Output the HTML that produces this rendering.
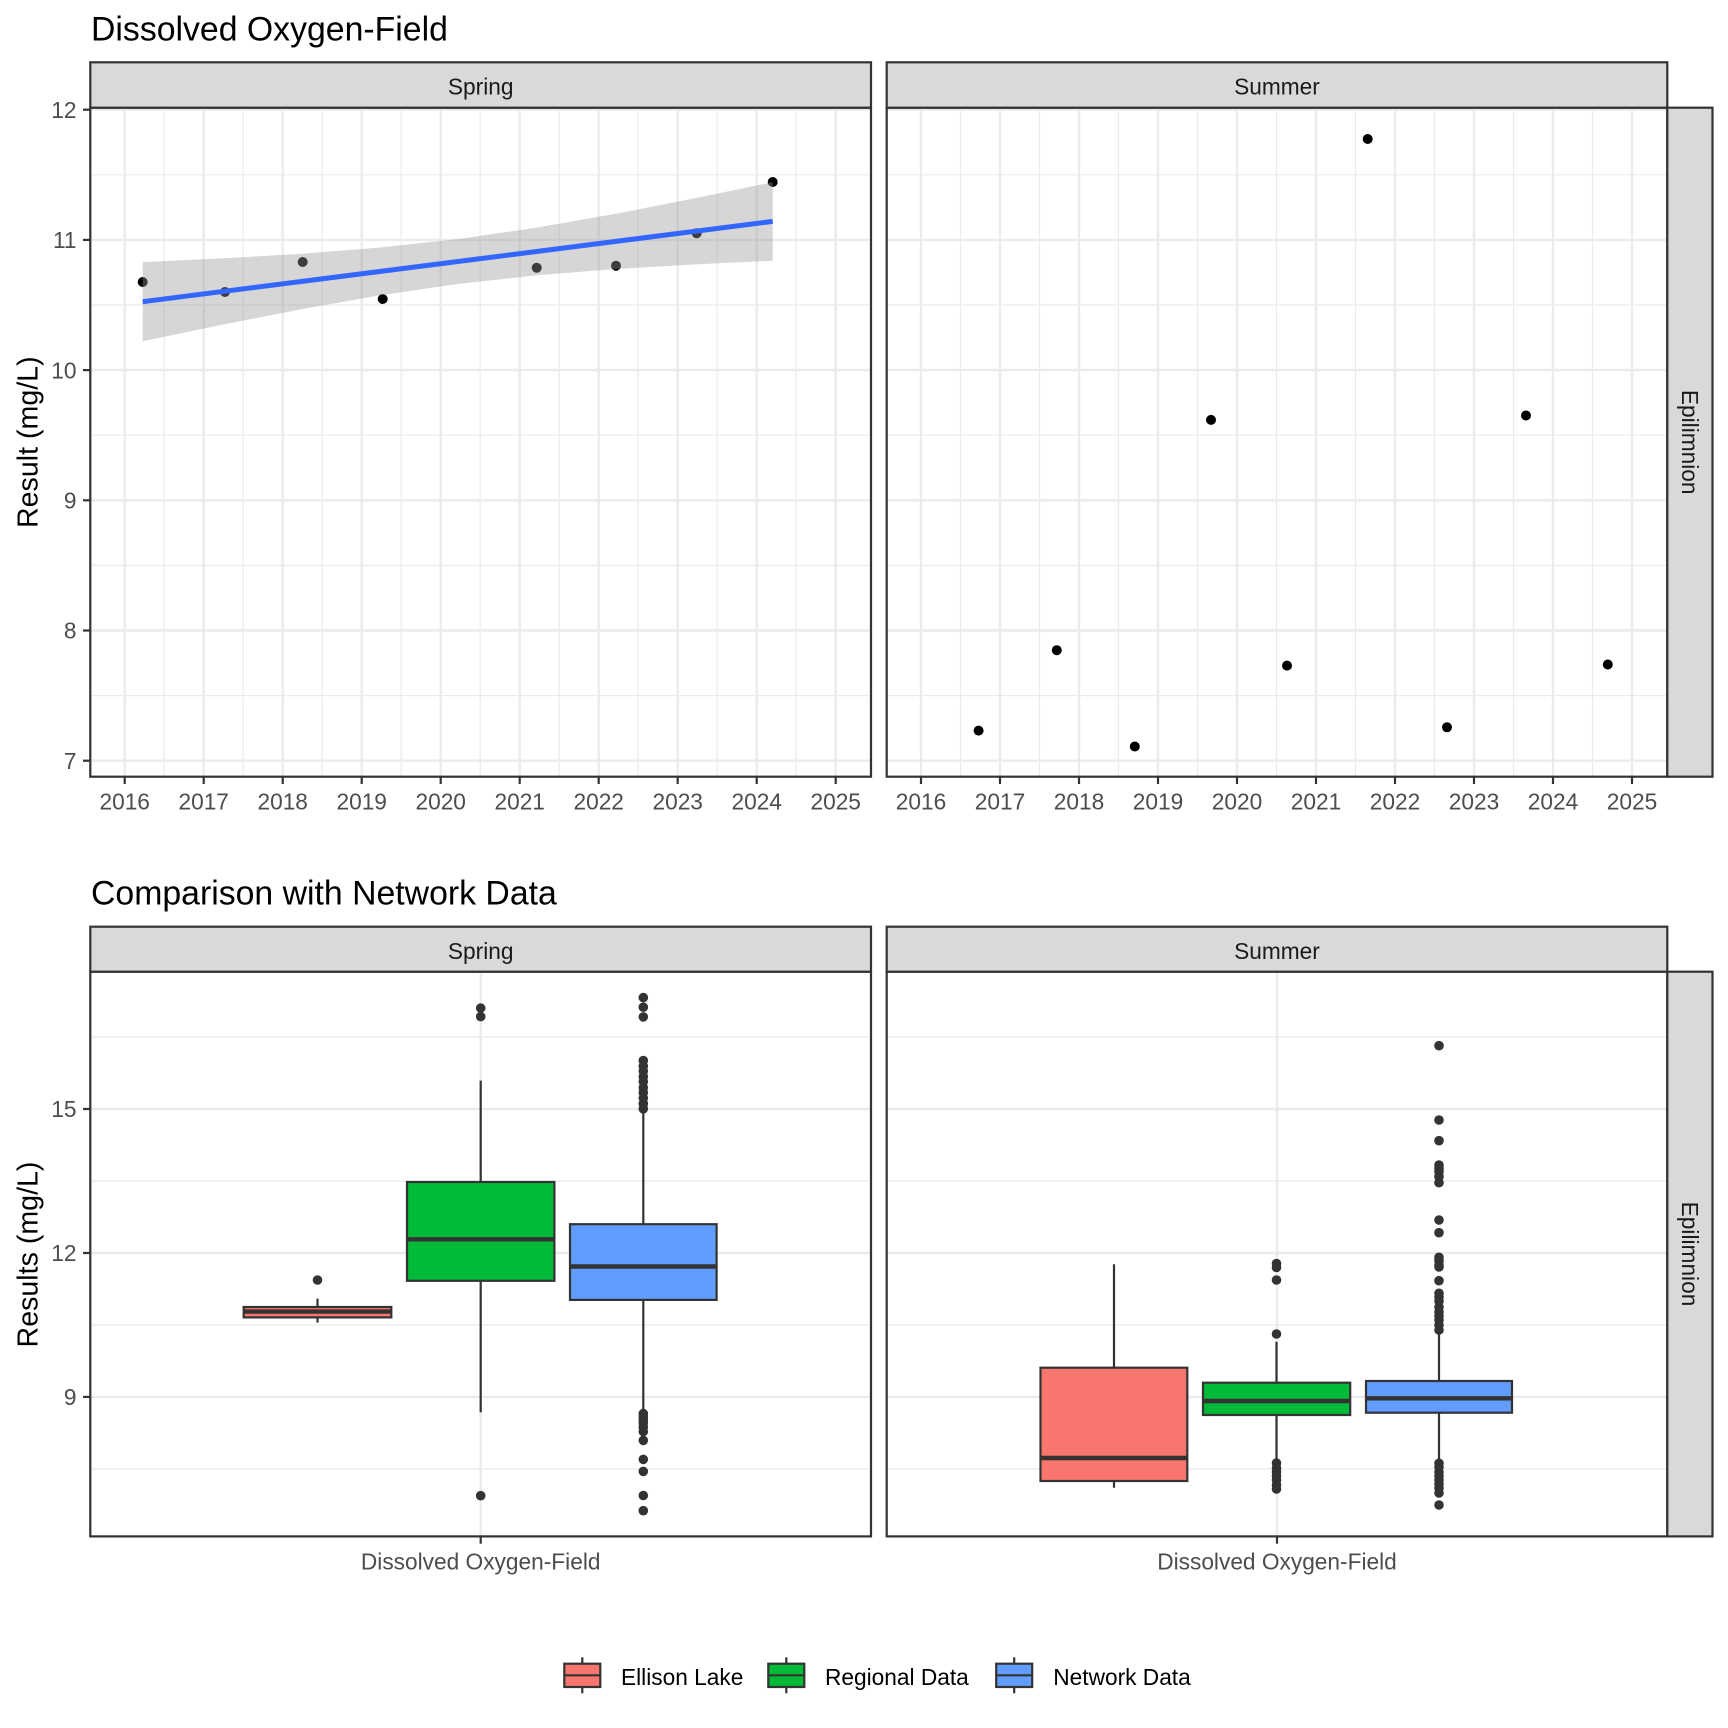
<!DOCTYPE html>
<html><head><meta charset="utf-8"><style>
html,body{margin:0;padding:0;background:#fff;}
svg{display:block;}
text{font-family:"Liberation Sans",Arial,sans-serif;}
.ax{font-size:22.7px;fill:#4d4d4d;}
.st{font-size:22.7px;fill:#1a1a1a;}
.lg{font-size:22.7px;fill:#000;}
.ti{font-size:33.8px;fill:#000;}
.yt{font-size:28.6px;fill:#000;}
.gM{stroke:#ebebeb;stroke-width:2.4;}
.gm{stroke:#ebebeb;stroke-width:1.2;}
.bd{fill:none;stroke:#333;stroke-width:2.2;}
.strip{fill:#d9d9d9;stroke:#333;stroke-width:2.2;}
.tk{stroke:#333;stroke-width:2.2;}
.wh{stroke:#333;stroke-width:2.2;}
.bx{stroke:#333;stroke-width:2.2;}
.md{stroke:#333;stroke-width:4.4;}
.o{fill:#333;}
</style></head><body>
<svg width="1728" height="1728" viewBox="0 0 1728 1728" xmlns="http://www.w3.org/2000/svg">
<rect width="1728" height="1728" fill="#fff"/>

<!-- ===== TOP TITLE ===== -->
<text class="ti" x="91" y="40.7">Dissolved Oxygen-Field</text>

<!-- ===== TOP LEFT PANEL (Spring) ===== -->
<rect x="90.3" y="107.7" width="780.7" height="669" fill="#fff"/>
<g class="gm">
<line x1="90.3" x2="871" y1="695.6" y2="695.6"/><line x1="90.3" x2="871" y1="565.4" y2="565.4"/><line x1="90.3" x2="871" y1="435.2" y2="435.2"/><line x1="90.3" x2="871" y1="305" y2="305"/><line x1="90.3" x2="871" y1="174.8" y2="174.8"/>
<line y1="107.7" y2="776.7" x1="164.2" x2="164.2"/><line y1="107.7" y2="776.7" x1="243.2" x2="243.2"/><line y1="107.7" y2="776.7" x1="322.2" x2="322.2"/><line y1="107.7" y2="776.7" x1="401.2" x2="401.2"/><line y1="107.7" y2="776.7" x1="480.2" x2="480.2"/><line y1="107.7" y2="776.7" x1="559.2" x2="559.2"/><line y1="107.7" y2="776.7" x1="638.2" x2="638.2"/><line y1="107.7" y2="776.7" x1="717.2" x2="717.2"/><line y1="107.7" y2="776.7" x1="796.2" x2="796.2"/>
</g>
<g class="gM">
<line x1="90.3" x2="871" y1="760.7" y2="760.7"/><line x1="90.3" x2="871" y1="630.5" y2="630.5"/><line x1="90.3" x2="871" y1="500.3" y2="500.3"/><line x1="90.3" x2="871" y1="370.1" y2="370.1"/><line x1="90.3" x2="871" y1="239.9" y2="239.9"/><line x1="90.3" x2="871" y1="109.7" y2="109.7"/>
<line y1="107.7" y2="776.7" x1="124.7" x2="124.7"/><line y1="107.7" y2="776.7" x1="203.7" x2="203.7"/><line y1="107.7" y2="776.7" x1="282.7" x2="282.7"/><line y1="107.7" y2="776.7" x1="361.7" x2="361.7"/><line y1="107.7" y2="776.7" x1="440.7" x2="440.7"/><line y1="107.7" y2="776.7" x1="519.7" x2="519.7"/><line y1="107.7" y2="776.7" x1="598.7" x2="598.7"/><line y1="107.7" y2="776.7" x1="677.7" x2="677.7"/><line y1="107.7" y2="776.7" x1="756.7" x2="756.7"/><line y1="107.7" y2="776.7" x1="835.7" x2="835.7"/>
</g>
<!-- points -->
<g fill="#000">
<circle cx="142.7" cy="282" r="5"/><circle cx="225" cy="292" r="5"/><circle cx="302.7" cy="262" r="5"/><circle cx="382.7" cy="299" r="5"/>
<circle cx="536.7" cy="267.8" r="5"/><circle cx="616" cy="265.7" r="5"/><circle cx="696.7" cy="233.3" r="5"/><circle cx="772.7" cy="182" r="5"/>
</g>
<!-- confidence band -->
<polygon fill="rgba(153,153,153,0.4)" points="142.7,262.1 221.4,258.43 300.1,253.83 378.8,247.67 459.35,238.88 536.7,227.65 615,213.9 693.7,198.5 772.7,182.1 772.7,260.7 693.7,264.44 615,269.1 536.7,275.31 459.35,283.8 378.8,295.55 300.1,309.45 221.4,324.91 142.7,341.3"/>
<line x1="142.7" y1="301.7" x2="772.7" y2="221.4" stroke="#3366FF" stroke-width="5"/>
<rect class="bd" x="90.3" y="107.7" width="780.7" height="669"/>
<rect class="strip" x="90.3" y="62.3" width="780.7" height="45.4"/>
<text class="st" x="480.7" y="94.3" text-anchor="middle">Spring</text>

<!-- ===== TOP RIGHT PANEL (Summer) ===== -->
<rect x="886.7" y="107.7" width="780.6" height="669" fill="#fff"/>
<g class="gm">
<line x1="886.7" x2="1667.3" y1="695.6" y2="695.6"/><line x1="886.7" x2="1667.3" y1="565.4" y2="565.4"/><line x1="886.7" x2="1667.3" y1="435.2" y2="435.2"/><line x1="886.7" x2="1667.3" y1="305" y2="305"/><line x1="886.7" x2="1667.3" y1="174.8" y2="174.8"/>
<line y1="107.7" y2="776.7" x1="960.5" x2="960.5"/><line y1="107.7" y2="776.7" x1="1039.5" x2="1039.5"/><line y1="107.7" y2="776.7" x1="1118.5" x2="1118.5"/><line y1="107.7" y2="776.7" x1="1197.5" x2="1197.5"/><line y1="107.7" y2="776.7" x1="1276.5" x2="1276.5"/><line y1="107.7" y2="776.7" x1="1355.5" x2="1355.5"/><line y1="107.7" y2="776.7" x1="1434.5" x2="1434.5"/><line y1="107.7" y2="776.7" x1="1513.5" x2="1513.5"/><line y1="107.7" y2="776.7" x1="1592.5" x2="1592.5"/>
</g>
<g class="gM">
<line x1="886.7" x2="1667.3" y1="760.7" y2="760.7"/><line x1="886.7" x2="1667.3" y1="630.5" y2="630.5"/><line x1="886.7" x2="1667.3" y1="500.3" y2="500.3"/><line x1="886.7" x2="1667.3" y1="370.1" y2="370.1"/><line x1="886.7" x2="1667.3" y1="239.9" y2="239.9"/><line x1="886.7" x2="1667.3" y1="109.7" y2="109.7"/>
<line y1="107.7" y2="776.7" x1="921" x2="921"/><line y1="107.7" y2="776.7" x1="1000" x2="1000"/><line y1="107.7" y2="776.7" x1="1079" x2="1079"/><line y1="107.7" y2="776.7" x1="1158" x2="1158"/><line y1="107.7" y2="776.7" x1="1237" x2="1237"/><line y1="107.7" y2="776.7" x1="1316" x2="1316"/><line y1="107.7" y2="776.7" x1="1395" x2="1395"/><line y1="107.7" y2="776.7" x1="1474" x2="1474"/><line y1="107.7" y2="776.7" x1="1553" x2="1553"/><line y1="107.7" y2="776.7" x1="1632" x2="1632"/>
</g>
<g fill="#000">
<circle cx="978.6" cy="730.6" r="5"/><circle cx="1056.8" cy="650.2" r="5"/><circle cx="1134.8" cy="746.5" r="5"/><circle cx="1211" cy="419.9" r="5"/><circle cx="1287" cy="665.6" r="5"/><circle cx="1367.7" cy="139" r="5"/><circle cx="1447" cy="727.3" r="5"/><circle cx="1526" cy="415.5" r="5"/><circle cx="1607.8" cy="664.5" r="5"/>
</g>
<rect class="bd" x="886.7" y="107.7" width="780.6" height="669"/>
<rect class="strip" x="886.7" y="62.3" width="780.6" height="45.4"/>
<text class="st" x="1277" y="94.3" text-anchor="middle">Summer</text>
<rect class="strip" x="1667.3" y="107.7" width="45.2" height="669"/>
<text class="st" transform="translate(1682,442.2) rotate(90)" text-anchor="middle">Epilimnion</text>

<!-- top axes -->
<g class="tk">
<line x1="83" x2="90.3" y1="760.7" y2="760.7"/><line x1="83" x2="90.3" y1="630.5" y2="630.5"/><line x1="83" x2="90.3" y1="500.3" y2="500.3"/><line x1="83" x2="90.3" y1="370.1" y2="370.1"/><line x1="83" x2="90.3" y1="239.9" y2="239.9"/><line x1="83" x2="90.3" y1="109.7" y2="109.7"/>
<line y1="776.7" y2="784" x1="124.7" x2="124.7"/><line y1="776.7" y2="784" x1="203.7" x2="203.7"/><line y1="776.7" y2="784" x1="282.7" x2="282.7"/><line y1="776.7" y2="784" x1="361.7" x2="361.7"/><line y1="776.7" y2="784" x1="440.7" x2="440.7"/><line y1="776.7" y2="784" x1="519.7" x2="519.7"/><line y1="776.7" y2="784" x1="598.7" x2="598.7"/><line y1="776.7" y2="784" x1="677.7" x2="677.7"/><line y1="776.7" y2="784" x1="756.7" x2="756.7"/><line y1="776.7" y2="784" x1="835.7" x2="835.7"/>
<line y1="776.7" y2="784" x1="921" x2="921"/><line y1="776.7" y2="784" x1="1000" x2="1000"/><line y1="776.7" y2="784" x1="1079" x2="1079"/><line y1="776.7" y2="784" x1="1158" x2="1158"/><line y1="776.7" y2="784" x1="1237" x2="1237"/><line y1="776.7" y2="784" x1="1316" x2="1316"/><line y1="776.7" y2="784" x1="1395" x2="1395"/><line y1="776.7" y2="784" x1="1474" x2="1474"/><line y1="776.7" y2="784" x1="1553" x2="1553"/><line y1="776.7" y2="784" x1="1632" x2="1632"/>
</g>
<g class="ax" text-anchor="end">
<text x="76.5" y="768.9">7</text><text x="76.5" y="638.7">8</text><text x="76.5" y="508.5">9</text><text x="76.5" y="378.3">10</text><text x="76.5" y="248.1">11</text><text x="76.5" y="117.9">12</text>
</g>
<g class="ax" text-anchor="middle">
<text x="124.7" y="809.3">2016</text><text x="203.7" y="809.3">2017</text><text x="282.7" y="809.3">2018</text><text x="361.7" y="809.3">2019</text><text x="440.7" y="809.3">2020</text><text x="519.7" y="809.3">2021</text><text x="598.7" y="809.3">2022</text><text x="677.7" y="809.3">2023</text><text x="756.7" y="809.3">2024</text><text x="835.7" y="809.3">2025</text>
<text x="921" y="809.3">2016</text><text x="1000" y="809.3">2017</text><text x="1079" y="809.3">2018</text><text x="1158" y="809.3">2019</text><text x="1237" y="809.3">2020</text><text x="1316" y="809.3">2021</text><text x="1395" y="809.3">2022</text><text x="1474" y="809.3">2023</text><text x="1553" y="809.3">2024</text><text x="1632" y="809.3">2025</text>
</g>
<text class="yt" transform="translate(37.3,442.2) rotate(-90)" text-anchor="middle">Result (mg/L)</text>

<!-- ===== BOTTOM TITLE ===== -->
<text class="ti" x="91" y="904.3">Comparison with Network Data</text>

<!-- ===== BOTTOM LEFT PANEL (Spring) ===== -->
<rect x="90.3" y="971.7" width="780.7" height="564.7" fill="#fff"/>
<g class="gm">
<line x1="90.3" x2="871" y1="1469" y2="1469"/><line x1="90.3" x2="871" y1="1325" y2="1325"/><line x1="90.3" x2="871" y1="1181" y2="1181"/><line x1="90.3" x2="871" y1="1037" y2="1037"/>
</g>
<g class="gM">
<line x1="90.3" x2="871" y1="1396.9" y2="1396.9"/><line x1="90.3" x2="871" y1="1253" y2="1253"/><line x1="90.3" x2="871" y1="1109" y2="1109"/>
<line x1="480.7" x2="480.7" y1="971.7" y2="1536.4"/>
</g>
<!-- Ellison spring -->
<line class="wh" x1="317.5" x2="317.5" y1="1298.6" y2="1322.6"/>
<rect class="bx" x="243.7" y="1307" width="147.6" height="10.4" fill="#F8766D"/>
<line class="md" x1="243.7" x2="391.3" y1="1311.6" y2="1311.6"/>
<circle class="o" cx="317.5" cy="1280" r="4.8"/>
<!-- Regional spring -->
<line class="wh" x1="480.7" x2="480.7" y1="1080.6" y2="1412.4"/>
<rect class="bx" x="407" y="1182" width="147.4" height="98.8" fill="#00BA38"/>
<line class="md" x1="407" x2="554.4" y1="1239.3" y2="1239.3"/>
<g class="o"><circle cx="480.7" cy="1008.1" r="4.8"/><circle cx="480.7" cy="1016.6" r="4.8"/><circle cx="480.7" cy="1495.7" r="4.8"/></g>
<!-- Network spring -->
<line class="wh" x1="643.3" x2="643.3" y1="1108" y2="1413"/>
<rect class="bx" x="570" y="1224.2" width="146.6" height="75.7" fill="#619CFF"/>
<line class="md" x1="570" x2="716.6" y1="1266.5" y2="1266.5"/>
<g class="o">
<circle cx="643.3" cy="997.6" r="4.8"/><circle cx="643.3" cy="1007.2" r="4.8"/><circle cx="643.3" cy="1016.9" r="4.8"/>
<circle cx="643.3" cy="1060.5" r="4.8"/><circle cx="643.3" cy="1066" r="4.8"/><circle cx="643.3" cy="1071" r="4.8"/><circle cx="643.3" cy="1076.5" r="4.8"/><circle cx="643.3" cy="1081.5" r="4.8"/><circle cx="643.3" cy="1087.5" r="4.8"/><circle cx="643.3" cy="1092.5" r="4.8"/><circle cx="643.3" cy="1098" r="4.8"/><circle cx="643.3" cy="1103.6" r="4.8"/><circle cx="643.3" cy="1108.8" r="4.8"/>
<circle cx="643.3" cy="1413.6" r="4.8"/><circle cx="643.3" cy="1416.5" r="4.8"/><circle cx="643.3" cy="1419.5" r="4.8"/><circle cx="643.3" cy="1423" r="4.8"/><circle cx="643.3" cy="1427" r="4.8"/><circle cx="643.3" cy="1431.5" r="4.8"/><circle cx="643.3" cy="1440.4" r="4.8"/><circle cx="643.3" cy="1459.4" r="4.8"/><circle cx="643.3" cy="1471.4" r="4.8"/><circle cx="643.3" cy="1495.5" r="4.8"/><circle cx="643.3" cy="1510.7" r="4.8"/>
</g>
<rect class="bd" x="90.3" y="971.7" width="780.7" height="564.7"/>
<rect class="strip" x="90.3" y="926.7" width="780.7" height="45"/>
<text class="st" x="480.7" y="958.8" text-anchor="middle">Spring</text>

<!-- ===== BOTTOM RIGHT PANEL (Summer) ===== -->
<rect x="886.7" y="971.7" width="780.6" height="564.7" fill="#fff"/>
<g class="gm">
<line x1="886.7" x2="1667.3" y1="1469" y2="1469"/><line x1="886.7" x2="1667.3" y1="1325" y2="1325"/><line x1="886.7" x2="1667.3" y1="1181" y2="1181"/><line x1="886.7" x2="1667.3" y1="1037" y2="1037"/>
</g>
<g class="gM">
<line x1="886.7" x2="1667.3" y1="1396.9" y2="1396.9"/><line x1="886.7" x2="1667.3" y1="1253" y2="1253"/><line x1="886.7" x2="1667.3" y1="1109" y2="1109"/>
<line x1="1277" x2="1277" y1="971.7" y2="1536.4"/>
</g>
<!-- Ellison summer -->
<line class="wh" x1="1114" x2="1114" y1="1264.3" y2="1487.7"/>
<rect class="bx" x="1040.5" y="1367.7" width="146.8" height="113.3" fill="#F8766D"/>
<line class="md" x1="1040.5" x2="1187.3" y1="1458" y2="1458"/>
<!-- Regional summer -->
<line class="wh" x1="1276.5" x2="1276.5" y1="1341.7" y2="1462"/>
<rect class="bx" x="1203" y="1382.7" width="147.2" height="32.3" fill="#00BA38"/>
<line class="md" x1="1203" x2="1350.2" y1="1401" y2="1401"/>
<g class="o">
<circle cx="1276.5" cy="1263.5" r="4.8"/><circle cx="1276.5" cy="1267.5" r="4.8"/><circle cx="1276.5" cy="1280" r="4.8"/><circle cx="1276.5" cy="1334" r="4.8"/>
<circle cx="1276.5" cy="1463" r="4.8"/><circle cx="1276.5" cy="1468" r="4.8"/><circle cx="1276.5" cy="1472" r="4.8"/><circle cx="1276.5" cy="1476" r="4.8"/><circle cx="1276.5" cy="1480" r="4.8"/><circle cx="1276.5" cy="1485" r="4.8"/><circle cx="1276.5" cy="1489" r="4.8"/>
</g>
<!-- Network summer -->
<line class="wh" x1="1439" x2="1439" y1="1330" y2="1463.3"/>
<rect class="bx" x="1366" y="1381" width="146" height="31.7" fill="#619CFF"/>
<line class="md" x1="1366" x2="1512" y1="1398.3" y2="1398.3"/>
<g class="o">
<circle cx="1439" cy="1045.7" r="4.8"/><circle cx="1439" cy="1120" r="4.8"/><circle cx="1439" cy="1140.7" r="4.8"/>
<circle cx="1439" cy="1165" r="4.8"/><circle cx="1439" cy="1168.3" r="4.8"/><circle cx="1439" cy="1171.7" r="4.8"/><circle cx="1439" cy="1176.7" r="4.8"/><circle cx="1439" cy="1182.7" r="4.8"/>
<circle cx="1439" cy="1220" r="4.8"/><circle cx="1439" cy="1232.7" r="4.8"/>
<circle cx="1439" cy="1257.3" r="4.8"/><circle cx="1439" cy="1260.7" r="4.8"/><circle cx="1439" cy="1265" r="4.8"/><circle cx="1439" cy="1267" r="4.8"/><circle cx="1439" cy="1280.7" r="4.8"/>
<circle cx="1439" cy="1293.3" r="4.8"/><circle cx="1439" cy="1297" r="4.8"/><circle cx="1439" cy="1301" r="4.8"/><circle cx="1439" cy="1307" r="4.8"/><circle cx="1439" cy="1312" r="4.8"/><circle cx="1439" cy="1316" r="4.8"/><circle cx="1439" cy="1320" r="4.8"/><circle cx="1439" cy="1325" r="4.8"/><circle cx="1439" cy="1330" r="4.8"/>
<circle cx="1439" cy="1463.3" r="4.8"/><circle cx="1439" cy="1467" r="4.8"/><circle cx="1439" cy="1472" r="4.8"/><circle cx="1439" cy="1476" r="4.8"/><circle cx="1439" cy="1480" r="4.8"/><circle cx="1439" cy="1484" r="4.8"/><circle cx="1439" cy="1488" r="4.8"/><circle cx="1439" cy="1493" r="4.8"/><circle cx="1439" cy="1505" r="4.8"/>
</g>
<rect class="bd" x="886.7" y="971.7" width="780.6" height="564.7"/>
<rect class="strip" x="886.7" y="926.7" width="780.6" height="45"/>
<text class="st" x="1277" y="958.8" text-anchor="middle">Summer</text>
<rect class="strip" x="1667.3" y="971.7" width="45.2" height="564.7"/>
<text class="st" transform="translate(1682,1254) rotate(90)" text-anchor="middle">Epilimnion</text>

<!-- bottom axes -->
<g class="tk">
<line x1="83" x2="90.3" y1="1396.9" y2="1396.9"/><line x1="83" x2="90.3" y1="1253" y2="1253"/><line x1="83" x2="90.3" y1="1109" y2="1109"/>
<line x1="480.7" x2="480.7" y1="1536.4" y2="1543.7"/><line x1="1277" x2="1277" y1="1536.4" y2="1543.7"/>
</g>
<g class="ax" text-anchor="end">
<text x="76.5" y="1405.1">9</text><text x="76.5" y="1261.2">12</text><text x="76.5" y="1117.2">15</text>
</g>
<g class="ax" text-anchor="middle">
<text x="480.7" y="1569.6">Dissolved Oxygen-Field</text>
<text x="1277" y="1569.6">Dissolved Oxygen-Field</text>
</g>
<text class="yt" transform="translate(37.3,1254.5) rotate(-90)" text-anchor="middle">Results (mg/L)</text>

<!-- ===== LEGEND ===== -->
<line class="wh" x1="582.3" x2="582.3" y1="1657.3" y2="1693.3"/>
<rect class="bx" x="564.3" y="1663.7" width="36" height="23.3" fill="#F8766D"/>
<line class="wh" x1="564.3" x2="600.3" y1="1675.3" y2="1675.3"/>
<text class="lg" x="621" y="1685">Ellison Lake</text>

<line class="wh" x1="786.3" x2="786.3" y1="1657.3" y2="1693.3"/>
<rect class="bx" x="768.3" y="1663.7" width="36" height="23.3" fill="#00BA38"/>
<line class="wh" x1="768.3" x2="804.3" y1="1675.3" y2="1675.3"/>
<text class="lg" x="825" y="1685">Regional Data</text>

<line class="wh" x1="1014.2" x2="1014.2" y1="1657.3" y2="1693.3"/>
<rect class="bx" x="996.2" y="1663.7" width="36" height="23.3" fill="#619CFF"/>
<line class="wh" x1="996.2" x2="1032.2" y1="1675.3" y2="1675.3"/>
<text class="lg" x="1053.3" y="1685">Network Data</text>
</svg>
</body></html>
